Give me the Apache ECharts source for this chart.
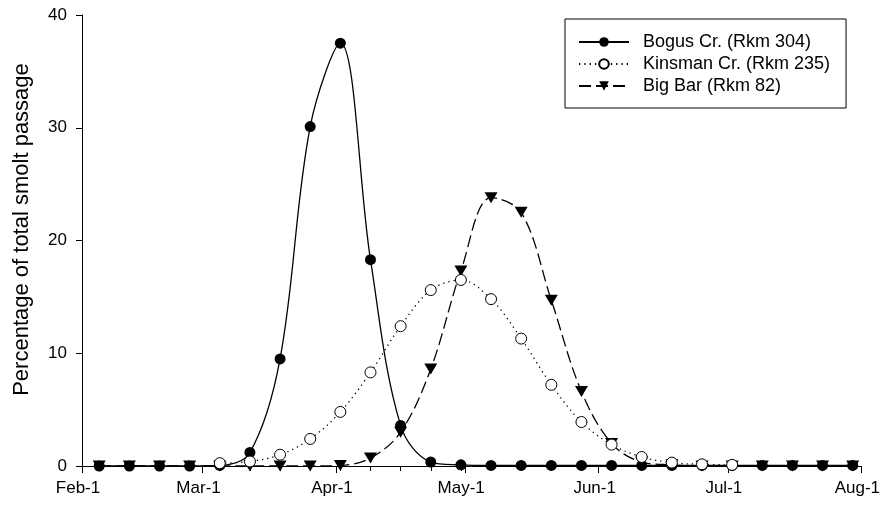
<!DOCTYPE html>
<html>
<head>
<meta charset="utf-8">
<script src="https://cdn.jsdelivr.net/npm/echarts@6/dist/echarts.min.js"></script>
<style>
html,body{margin:0;padding:0;background:#fff;}
#c{width:883px;height:506px;}
</style>
</head>
<body>
<div id="c"></div>
<script>
// Days after Feb-1 of each weekly sample
const sampleDays = [4, 11, 18, 25, 32, 39, 46, 53, 60, 67, 74, 81, 88, 95, 102, 109, 116, 123, 130, 137, 144, 151, 158, 165, 172, 179];
const bogusValues = [0, 0, 0, 0, 0.05, 1.2, 9.5, 30.1, 37.5, 18.3, 3.6, 0.35, 0.1, 0.05, 0.05, 0.05, 0.05, 0.05, 0.05, 0.05, 0.05, 0.05, 0.05, 0.05, 0.05, 0.05];
const kinsmanValues = [null, null, null, null, 0.25, 0.4, 1.0, 2.4, 4.8, 8.3, 12.4, 15.6, 16.5, 14.8, 11.3, 7.2, 3.9, 1.9, 0.8, 0.3, 0.15, 0.1, null, null, null, null];
const bigBarValues = [0, 0, 0, 0, 0, 0, 0, 0, 0.05, 0.7, 3.0, 8.6, 17.3, 23.8, 22.5, 14.7, 6.6, 2.0, 0.35, 0.1, 0, 0, 0, 0, 0, 0];
const seriesNames = ['Bogus Cr. (Rkm 304)', 'Kinsman Cr. (Rkm 235)', 'Big Bar (Rkm 82)'];
const monthTickDays = [0, 28, 59, 89, 120, 150, 181];
const monthLabels = ['Feb-1', 'Mar-1', 'Apr-1', 'May-1', 'Jun-1', 'Jul-1', 'Aug-1'];
const yTickValues = [0, 10, 20, 30, 40];
const yAxisTitle = 'Percentage of total smolt passage';

const FONT = 'Liberation Sans';
function pairs(vals) { return sampleDays.map((d, i) => [d, vals[i]]); }

const chart = echarts.init(document.getElementById('c'), null, {renderer: 'canvas'});
chart.setOption({
  backgroundColor: '#fff',
  animation: false,
  textStyle: {fontFamily: FONT, color: '#000'},
  grid: {left: 82, top: 15, right: 21, bottom: 40},
  legend: {
    orient: 'vertical',
    left: 565, top: 19,
    padding: [14, 16, 13, 13],
    itemWidth: 50, itemHeight: 12, itemGap: 4,
    borderColor: '#000', borderWidth: 1,
    textStyle: {fontSize: 18, color: '#000', fontFamily: FONT, padding: [0, 0, 0, 9]},
    data: seriesNames
  },
  xAxis: [{
    type: 'value', min: monthTickDays[0], max: monthTickDays[monthTickDays.length - 1],
    splitLine: {show: false},
    axisLine: {show: true, onZero: false, lineStyle: {color: '#000', width: 1}},
    axisTick: {show: true, inside: false, length: 7, lineStyle: {color: '#000'}, customValues: monthTickDays},
    axisLabel: {
      customValues: monthTickDays, margin: 14, fontSize: 17, color: '#000', fontFamily: FONT,
      padding: [0, 8, 0, 0],
      formatter: v => monthLabels[monthTickDays.indexOf(v)]
    }
  }, {
    type: 'value', min: monthTickDays[0], max: monthTickDays[monthTickDays.length - 1],
    position: 'bottom',
    splitLine: {show: false},
    axisLine: {show: false},
    axisTick: {show: true, inside: false, length: 5, lineStyle: {color: '#000'}, customValues: sampleDays},
    axisLabel: {show: false}
  }],
  yAxis: {
    type: 'value', min: 0, max: 40, interval: 10,
    splitLine: {show: false},
    axisLine: {show: true, onZero: false, lineStyle: {color: '#000', width: 1}},
    axisTick: {show: true, inside: false, length: 6, lineStyle: {color: '#000'}},
    axisLabel: {margin: 15, fontSize: 17, color: '#000', fontFamily: FONT,
      formatter: v => (yTickValues.indexOf(v) >= 0 ? String(v) : '')},
    name: yAxisTitle, nameLocation: 'middle', nameGap: 49, nameRotate: 90,
    nameTextStyle: {fontSize: 22, color: '#000', fontFamily: FONT, padding: [0, 0, 0, 22]}
  },
  series: [
    {
      name: seriesNames[2], type: 'line', data: pairs(bigBarValues), smooth: 0.35,
      symbol: 'triangle', symbolRotate: 180, symbolSize: [13, 11], showAllSymbol: true,
      lineStyle: {color: '#000', width: 1.3, type: [12, 5]},
      itemStyle: {color: '#000'}
    },
    {
      name: seriesNames[0], type: 'line', data: pairs(bogusValues), smooth: 0.35,
      symbol: 'circle', symbolSize: 11, showAllSymbol: true,
      lineStyle: {color: '#000', width: 1.3, type: 'solid'},
      itemStyle: {color: '#000'}
    },
    {
      name: seriesNames[1], type: 'line', data: pairs(kinsmanValues), smooth: 0.35,
      symbol: 'circle', symbolSize: 11, showAllSymbol: true,
      lineStyle: {color: '#000', width: 1.3, type: [1.3, 4]},
      itemStyle: {color: '#fff', borderColor: '#000', borderWidth: 1}
    }
  ]
});
</script>
</body>
</html>
